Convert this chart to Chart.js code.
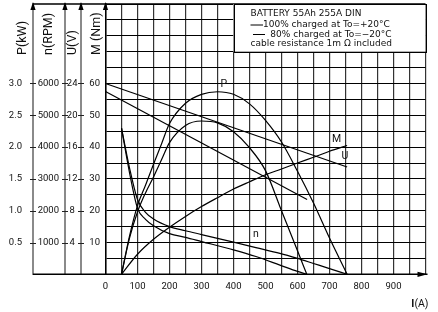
<!DOCTYPE html>
<html>
<head>
<meta charset="utf-8">
<script src="https://cdn.jsdelivr.net/npm/chart.js@4.4.1/dist/chart.umd.min.js"></script>
<style>
  html, body { margin: 0; padding: 0; background: #fff; }
  canvas { display: block; }
</style>
</head>
<body>
<canvas id="myChart" width="438" height="312"></canvas>
<script>
// values, current I in A
const curU100 = [0, 755]
const volt100 = [24, 13.5]
const curU80 = [0, 630]
const volt80 = [23, 9.4]

const curM = [50, 100, 150, 200, 250, 300, 350, 400, 450, 500, 550, 600, 650, 700, 755]
const torque = [0, 6.3, 11, 14.8, 18.2, 21.3, 24.1, 26.8, 29.1, 31.3, 33.1, 35, 36.8, 38.7, 40.5]

const curN100 = [50, 75, 100, 125, 150, 200, 250, 300, 400, 470, 545, 600, 650, 700, 755]
const rpm100 = [4600, 3350, 2350, 1950, 1740, 1500, 1370, 1250, 1010, 840, 660, 500, 340, 180, 0]
const curN80 = [50, 75, 100, 125, 150, 200, 250, 300, 400, 470, 545, 600, 629]
const rpm80 = [4600, 3200, 2080, 1730, 1530, 1280, 1160, 1030, 770, 560, 290, 90, 0]

const curP100 = [50, 75, 100, 125, 150, 175, 200, 250, 300, 350, 400, 450, 500, 550, 600, 650, 700, 755]
const kw100 = [0, 0.6, 1.08, 1.4, 1.73, 2.05, 2.37, 2.69, 2.83, 2.87, 2.83, 2.68, 2.42, 2.08, 1.62, 1.12, 0.57, 0]
const curP80 = [50, 75, 100, 125, 150, 175, 200, 250, 300, 350, 400, 450, 500, 550, 600, 629]
const kw80 = [0, 0.57, 0.98, 1.28, 1.53, 1.8, 2.07, 2.34, 2.41, 2.38, 2.24, 1.99, 1.63, 1.0, 0.37, 0]

// tick labels
const pTicks = [0.5, 1, 1.5, 2, 2.5, 3]
const nTicks = [1000, 2000, 3000, 4000, 5000, 6000]
const uTicks = [4, 8, 12, 16, 20, 24]
const mTicks = [10, 20, 30, 40, 50, 60]
const iTicks = [0, 100, 200, 300, 400, 500, 600, 700, 800, 900]

const legendLines = ['BATTERY 55Ah 255A DIN', '100% charged at To=+20°C', ' 80% charged at To=\u221220°C', 'cable resistance 1m \u03A9 included']
const axisTitles = ['P(kW)', 'n(RPM)', 'U(V)', 'M (Nm)']
// curve name, current, torque-scale height
const curveNames = [['P', 370, 59.7], ['M', 722, 42.5], ['U', 748, 37], ['n', 470, 12.4]]

const pts = (xs, ys) => xs.map((x, i) => ({x: x, y: ys[i]}))
const every = (from, to, step) => { let a = []; for (let v = from; v <= to + 1e-9; v += step) a.push(v); return a }

const FONT = 'Roboto'
Chart.defaults.font.family = FONT
Chart.defaults.color = '#111'

const line = (data, axis) => ({
  data: data, yAxisID: axis,
  borderColor: '#000', borderWidth: 1.2,
  pointRadius: 0, fill: false, cubicInterpolationMode: 'monotone'
})

const decor = {
  id: 'decor',
  afterDraw(chart) {
    const ctx = chart.ctx
    const a = chart.chartArea
    const s = chart.scales
    const axes = [s.yP, s.yN, s.yU, s.yM]
    ctx.save()

    // frame lines top and bottom
    ctx.strokeStyle = '#000'
    ctx.lineWidth = 1.4
    ctx.beginPath()
    ctx.moveTo(s.yP.right, a.top); ctx.lineTo(a.right, a.top)
    ctx.moveTo(s.yP.right, a.bottom); ctx.lineTo(a.right + 2, a.bottom)
    ctx.stroke()

    // arrows
    ctx.fillStyle = '#000'
    axes.forEach(sc => {
      const x = sc.right
      ctx.beginPath()
      ctx.moveTo(x, a.top - 2); ctx.lineTo(x - 2.6, a.top + 6); ctx.lineTo(x + 2.6, a.top + 6)
      ctx.closePath(); ctx.fill()
    })
    ctx.beginPath()
    ctx.moveTo(a.right + 2, a.bottom); ctx.lineTo(a.right - 8, a.bottom - 2.6); ctx.lineTo(a.right - 8, a.bottom + 2.6)
    ctx.closePath(); ctx.fill()

    // little dashes across the grey axis lines
    ctx.strokeStyle = '#222'
    ctx.lineWidth = 1
    ;[s.yP, s.yN, s.yU].forEach(sc => {
      sc.ticks.forEach(t => {
        const y = Math.round(sc.getPixelForValue(t.value)) + 0.5
        ctx.beginPath(); ctx.moveTo(sc.right - 3, y); ctx.lineTo(sc.right + 3, y); ctx.stroke()
      })
    })

    // axis titles
    ctx.fillStyle = '#111'
    ctx.font = '12.5px ' + FONT
    ctx.textBaseline = 'middle'
    ctx.textAlign = 'left'
    const offs = [9.7, 15.7, 8.3, 8.2]
    axes.forEach((sc, i) => {
      ctx.save()
      ctx.translate(sc.right - offs[i], 55)
      ctx.rotate(-Math.PI / 2)
      ctx.fillText(axisTitles[i], 0, 0)
      ctx.restore()
    })

    // legend box
    const bx = s.x.getPixelForValue(400)
    const by = s.yM.getPixelForValue(70)
    ctx.fillStyle = '#fff'
    ctx.fillRect(bx, a.top, a.right - bx, by - a.top)
    ctx.strokeStyle = '#000'
    ctx.lineWidth = 1
    ctx.strokeRect(Math.round(bx) + 0.5, Math.round(a.top) + 0.5, Math.round(a.right - bx), Math.round(by - a.top))
    ctx.fillStyle = '#111'
    ctx.font = '9px "DejaVu Sans"'
    ctx.textAlign = 'left'
    const lx = bx + 17
    ctx.fillText(legendLines[0], lx, a.top + 10)
    ctx.beginPath(); ctx.moveTo(lx, a.top + 21); ctx.lineTo(lx + 12.5, a.top + 21)
    ctx.moveTo(lx + 2.5, a.top + 30.5); ctx.lineTo(lx + 14.5, a.top + 30.5); ctx.stroke()
    ctx.fillText(legendLines[1], lx + 12.5, a.top + 21)
    ctx.fillText(legendLines[2], lx + 17, a.top + 30.5)
    ctx.fillText(legendLines[3], lx, a.top + 39.8)

    // curve names
    ctx.font = '10.5px ' + FONT
    ctx.textAlign = 'center'
    curveNames.forEach(c => {
      ctx.fillText(c[0], s.x.getPixelForValue(c[1]), s.yM.getPixelForValue(c[2]))
    })

    // I(A)
    ctx.textAlign = 'right'
    ctx.font = '10.5px ' + FONT
    const wA = ctx.measureText('(A)').width
    ctx.fillText('(A)', a.right + 3, 304)
    ctx.font = 'bold 10.5px ' + FONT
    ctx.fillText('I', a.right + 3 - wA, 304)
    ctx.restore()
  }
}

const yAxis = (max, vals, weight, width, pad, fmt, border, extra) => Object.assign({
  type: 'linear', position: 'left', weight: weight, min: 0, max: max,
  afterBuildTicks: sc => { sc.ticks = vals.map(v => ({value: v})) },
  afterFit: sc => { sc.width = width; sc.paddingTop = 0; sc.paddingBottom = 0 },
  grid: { display: false, drawOnChartArea: false, drawTicks: false },
  border: border,
  ticks: {
    autoSkip: false, padding: pad,
    font: { size: 9.5 }, color: '#111',
    callback: fmt
  }
}, extra || {})

const greyBorder = { display: true, color: '#8a8a8a', width: 2 }

new Chart(document.getElementById('myChart'), {
  type: 'line',
  data: {
    datasets: [
      line(pts(curU100, volt100), 'yU'),
      line(pts(curU80, volt80), 'yU'),
      line(pts(curM, torque), 'yM'),
      line(pts(curN100, rpm100), 'yN'),
      line(pts(curN80, rpm80), 'yN'),
      line(pts(curP100, kw100), 'yP'),
      line(pts(curP80, kw80), 'yP')
    ]
  },
  options: {
    responsive: false,
    devicePixelRatio: 1,
    animation: false,
    layout: { padding: { left: 0, right: 12.5, top: 4, bottom: 0 } },
    plugins: { legend: { display: false }, tooltip: { enabled: false } },
    scales: {
      x: {
        type: 'linear', min: 0, max: 1000,
        afterBuildTicks: sc => { sc.ticks = every(0, 1000, 50).map(v => ({value: v})) },
        afterFit: sc => { sc.height = 37.7; sc.paddingLeft = 0; sc.paddingRight = 0 },
        grid: { color: '#333', lineWidth: 1.2, drawTicks: false },
        border: { display: false },
        ticks: {
          autoSkip: false, maxRotation: 0, minRotation: 0, padding: 7,
          font: { size: 9.5 }, color: '#111',
          callback: v => iTicks.includes(v) ? String(v) : ''
        }
      },
      yP: yAxis(4.25, pTicks, 4, 33, 11, v => v.toFixed(1), greyBorder),
      yN: yAxis(8500, nTicks, 3, 32, 6, v => String(v), greyBorder),
      yU: yAxis(34, uTicks, 2, 16, 3.5, v => String(v), greyBorder, {}),
      yM: yAxis(85, every(0, 85, 5), 1, 24.5, 5.5, v => mTicks.includes(v) ? String(v) : '',
        { display: true, color: '#000', width: 1.5 },
        { grid: { display: true, drawOnChartArea: true, drawTicks: false, color: '#000', lineWidth: 1 } })
    }
  },
  plugins: [decor]
})
// U labels sit centred between the two grey lines
Chart.getChart('myChart').options.scales.yU.ticks.crossAlign = 'center'
Chart.getChart('myChart').update()
</script>
</body>
</html>
